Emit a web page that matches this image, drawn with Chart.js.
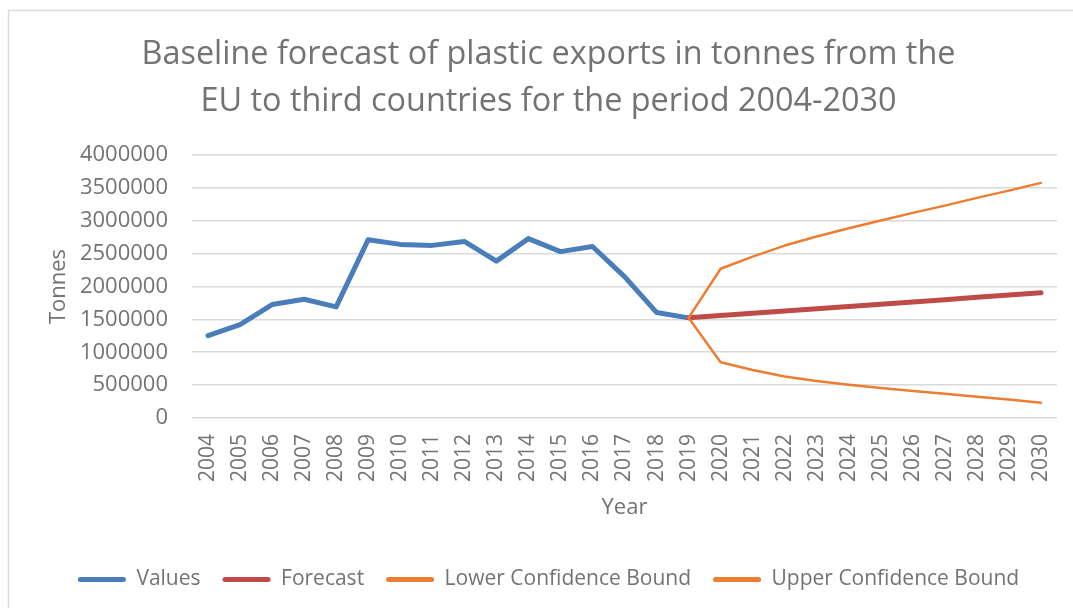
<!DOCTYPE html>
<html>
<head>
<meta charset="utf-8">
<script src="https://cdn.jsdelivr.net/npm/chart.js@4/dist/chart.umd.min.js"></script>
<style>
  html, body { margin: 0; padding: 0; background: #ffffff; }
  #wrap { width: 1073px; height: 608px; }
</style>
</head>
<body>
<div id="wrap"><canvas id="c" width="1073" height="608"></canvas></div>
<script>
const titleLines = [
  "Baseline forecast of plastic exports in tonnes from the",
  "EU to third countries for the period 2004-2030"
];
const years = ["2004","2005","2006","2007","2008","2009","2010","2011","2012","2013","2014","2015","2016","2017","2018","2019","2020","2021","2022","2023","2024","2025","2026","2027","2028","2029","2030"];
const valuesSeries = [1253000, 1420000, 1725000, 1805000, 1690000, 2712000, 2640000, 2625000, 2685000, 2385000, 2728000, 2530000, 2608000, 2150000, 1605000, 1523000, null, null, null, null, null, null, null, null, null, null, null];
const forecastSeries = [null, null, null, null, null, null, null, null, null, null, null, null, null, null, null, 1523000, 1558000, 1592000, 1627000, 1662000, 1696000, 1731000, 1765000, 1800000, 1835000, 1869000, 1904000];
const lowerSeries = [null, null, null, null, null, null, null, null, null, null, null, null, null, null, null, 1523000, 847000, 730000, 632000, 564000, 505000, 455000, 410000, 368000, 323000, 280000, 233000];
const upperSeries = [null, null, null, null, null, null, null, null, null, null, null, null, null, null, null, 1523000, 2269000, 2454000, 2622000, 2759000, 2885000, 3002000, 3119000, 3230000, 3347000, 3458000, 3575000];
const yTicks = [0, 500000, 1000000, 1500000, 2000000, 2500000, 3000000, 3500000, 4000000];
const seriesNames = ["Values", "Forecast", "Lower Confidence Bound", "Upper Confidence Bound"];
const axisTitles = { x: "Year", y: "Tonnes" };

const TEXT = '#737373';
const GRID = '#d9d9d9';
const FONT = "'Open Sans', sans-serif";

const borderPlugin = {
  id: 'outerBorder',
  beforeDraw(chart) {
    const ctx = chart.ctx;
    ctx.save();
    ctx.fillStyle = '#ffffff';
    ctx.fillRect(0, 0, chart.width, chart.height);
    ctx.strokeStyle = GRID;
    ctx.lineWidth = 1.5;
    ctx.strokeRect(8.5, 10.5, chart.width + 20, chart.height + 20);
    ctx.restore();
  },
  afterLayout(chart) {
    // centre title and legend on the (wider) outer chart frame
    const shift = 15;
    [chart.titleBlock, chart.legend].forEach(b => {
      if (b) { b.left += shift; b.right += shift; }
    });
  }
};

new Chart(document.getElementById('c'), {
  type: 'line',
  data: {
    labels: years,
    datasets: [
      { label: seriesNames[0], data: valuesSeries, borderColor: '#4a7ebb', backgroundColor: '#4a7ebb', borderWidth: 5, order: 3 },
      { label: seriesNames[1], data: forecastSeries, borderColor: '#be4b48', backgroundColor: '#be4b48', borderWidth: 5, order: 2 },
      { label: seriesNames[2], data: lowerSeries, borderColor: '#ed7d31', backgroundColor: '#ed7d31', borderWidth: 2.5, order: 1 },
      { label: seriesNames[3], data: upperSeries, borderColor: '#ed7d31', backgroundColor: '#ed7d31', borderWidth: 2.5, order: 0 }
    ]
  },
  options: {
    responsive: false,
    animation: false,
    spanGaps: false,
    elements: {
      line: { tension: 0, borderCapStyle: 'round', borderJoinStyle: 'round', fill: false },
      point: { radius: 0, hoverRadius: 0 }
    },
    layout: { padding: { top: 10, left: 10, right: 16, bottom: 8 } },
    plugins: {
      tooltip: { enabled: false },
      title: {
        display: true,
        text: titleLines,
        color: TEXT,
        font: { family: FONT, size: 32.4, weight: 'normal', lineHeight: 1.45 },
        padding: { top: 21, bottom: 30 }
      },
      legend: {
        position: 'bottom',
        labels: {
          color: TEXT,
          font: { family: FONT, size: 21 },
          boxWidth: 48,
          boxHeight: 5,
          padding: 22,
          useBorderRadius: true,
          borderRadius: 2.5,
          generateLabels(chart) {
            return chart.data.datasets.map((ds, i) => ({
              text: ds.label,
              fillStyle: ds.borderColor,
              strokeStyle: ds.borderColor,
              lineWidth: 0,
              fontColor: TEXT,
              hidden: false,
              datasetIndex: i,
              borderRadius: 2.5
            }));
          }
        }
      }
    },
    scales: {
      x: {
        type: 'category',
        offset: true,
        grid: { display: false, drawTicks: false },
        border: { display: false },
        ticks: {
          color: TEXT,
          font: { family: FONT, size: 21 },
          minRotation: 90,
          maxRotation: 90,
          autoSkip: false,
          padding: 16
        },
        title: {
          display: true,
          text: axisTitles.x,
          color: TEXT,
          font: { family: FONT, size: 22 },
          padding: 26
        },
        afterFit(scale) { scale.height = 129; scale.paddingLeft = 0; scale.paddingRight = 0; }
      },
      y: {
        min: 0,
        max: 4000000,
        afterBuildTicks(scale) { scale.ticks = yTicks.map(v => ({ value: v })); },
        grid: { color: GRID, lineWidth: 1.5, drawTicks: false },
        border: { display: false },
        ticks: {
          color: TEXT,
          font: { family: FONT, size: 22 },
          padding: 24,
          callback: (v) => String(v)
        },
        title: {
          display: true,
          text: axisTitles.y,
          color: TEXT,
          font: { family: FONT, size: 22 },
          padding: 36
        },
        afterFit(scale) { scale.width = 182; }
      }
    }
  },
  plugins: [borderPlugin]
});
</script>
</body>
</html>
